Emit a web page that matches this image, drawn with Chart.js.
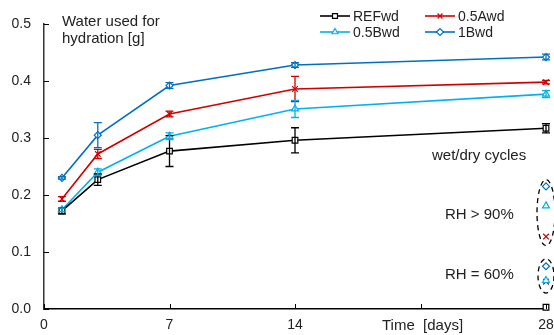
<!DOCTYPE html>
<html>
<head>
<meta charset="utf-8">
<script src="https://cdn.jsdelivr.net/npm/chart.js@4/dist/chart.umd.min.js"></script>
<style>
  html, body { margin: 0; padding: 0; background: #fff; }
  #wrap { width: 554px; height: 335px; position: relative; }
</style>
</head>
<body>
<div id="wrap"><canvas id="c"></canvas></div>
<script>
// Data
const days = [1, 3, 7, 14, 28]
const xTicks = [0, 7, 14, 21, 28]
const yTicks = [0, 0.1, 0.2, 0.3, 0.4, 0.5]

const refwd = [0.172, 0.227, 0.277, 0.296, 0.317]
const refwdErr = [0.005, 0.010, 0.027, 0.022, 0.008]
const a05wd = [0.193, 0.272, 0.342, 0.386, 0.398]
const a05wdErr = [0.004, 0.008, 0.005, 0.022, 0.003]
const b05wd = [0.174, 0.240, 0.303, 0.351, 0.377]
const b05wdErr = [0.003, 0.006, 0.006, 0.015, 0.006]
const b1wd = [0.230, 0.305, 0.392, 0.428, 0.442]
const b1wdErr = [0.002, 0.022, 0.005, 0.004, 0.005]

// separate markers at day 28 (RH > 90% and RH = 60%)
const rh90 = { b1: 0.215, b05: 0.181, a05: 0.127 }
const rh60 = { b1: 0.075, b05: 0.050, a05: 0.048, ref: 0.003 }

const FONT = "'Liberation Sans', Arial, sans-serif"
const TXT = "#222"

function pts(ys) {
  return days.map((d, i) => ({ x: d, y: ys[i] }))
}

function series(label, ys, errs, color, style, rad) {
  return {
    label: label,
    data: pts(ys),
    errs: errs,
    borderColor: color,
    backgroundColor: "#fff",
    pointStyle: style,
    pointRadius: rad,
    pointBorderWidth: 1.2,
    borderWidth: 1.6,
    tension: 0,
  }
}

function single(y, color, style, rad) {
  return {
    data: [{ x: 28, y: y }],
    showLine: false,
    borderColor: color,
    backgroundColor: "#fff",
    pointStyle: style,
    pointRadius: rad,
    pointBorderWidth: 1.2,
  }
}

const BLACK = "#000000", RED = "#d00000", LBLUE = "#00b0f0", BLUE = "#0070c0"

// error bars, inward ticks, ellipses, legend and labels
const decor = {
  id: "decor",
  afterDatasetsDraw(chart) {
    const { ctx, scales: { x, y }, chartArea } = chart
    ctx.save()

    // error bars
    chart.data.datasets.forEach((ds) => {
      if (!ds.errs) return
      ctx.strokeStyle = ds.borderColor
      ctx.lineWidth = 1.3
      ds.data.forEach((p, i) => {
        const e = ds.errs[i]
        const px = x.getPixelForValue(p.x)
        const top = y.getPixelForValue(p.y + e)
        const bot = y.getPixelForValue(p.y - e)
        ctx.beginPath()
        ctx.moveTo(px, top); ctx.lineTo(px, bot)
        ctx.moveTo(px - 4, top); ctx.lineTo(px + 4, top)
        ctx.moveTo(px - 4, bot); ctx.lineTo(px + 4, bot)
        ctx.stroke()
      })
    })

    // inward ticks
    ctx.strokeStyle = "#000"
    ctx.lineWidth = 1
    yTicks.forEach((v) => {
      const py = Math.round(y.getPixelForValue(v)) + 0.5
      ctx.beginPath(); ctx.moveTo(chartArea.left, py); ctx.lineTo(chartArea.left + 5, py); ctx.stroke()
    })
    xTicks.forEach((v) => {
      const px = Math.round(x.getPixelForValue(v)) + 0.5
      ctx.beginPath(); ctx.moveTo(px, chartArea.bottom); ctx.lineTo(px, chartArea.bottom - 5); ctx.stroke()
    })

    // dashed ellipses around day-28 groups
    const cx = x.getPixelForValue(28)
    ctx.setLineDash([5, 4])
    ctx.lineWidth = 1.3
    const e1t = y.getPixelForValue(rh90.b1 + 0.012), e1b = y.getPixelForValue(rh90.a05 - 0.016)
    ctx.beginPath(); ctx.ellipse(cx, (e1t + e1b) / 2, 9, (e1b - e1t) / 2, 0, 0, Math.PI * 2); ctx.stroke()
    const e2t = y.getPixelForValue(rh60.b1 + 0.013), e2b = y.getPixelForValue(rh60.a05 - 0.02)
    ctx.beginPath(); ctx.ellipse(cx, (e2t + e2b) / 2, 8, (e2b - e2t) / 2, 0, 0, Math.PI * 2); ctx.stroke()
    ctx.setLineDash([])

    // legend
    const items = [
      ["REFwd", BLACK, "rect", 320, 16],
      ["0.5Awd", RED, "crossRot", 425, 16],
      ["0.5Bwd", LBLUE, "triangle", 320, 32],
      ["1Bwd", BLUE, "rectRot", 425, 32],
    ]
    ctx.font = "14px " + FONT
    ctx.textBaseline = "middle"
    ctx.textAlign = "left"
    items.forEach(([lab, col, st, lx, ly]) => {
      ctx.strokeStyle = col
      ctx.lineWidth = 1.6
      ctx.beginPath(); ctx.moveTo(lx, ly); ctx.lineTo(lx + 30, ly); ctx.stroke()
      ctx.fillStyle = "#fff"
      ctx.lineWidth = 1.2
      Chart.helpers.drawPoint(ctx, { pointStyle: st, radius: 3.5, borderWidth: 1.2 }, lx + 15, ly)
      ctx.fillStyle = TXT
      ctx.fillText(lab, lx + 33, ly + 1)
    })

    // texts
    ctx.fillStyle = TXT
    ctx.font = "15px " + FONT
    ctx.textBaseline = "alphabetic"
    ctx.fillText("Water used for", 62, 26)
    ctx.fillText("hydration [g]", 62, 43)
    ctx.fillText("wet/dry cycles", 432, 160)
    ctx.fillText("RH > 90%", 445, 219)
    ctx.fillText("RH = 60%", 445, 279)
    ctx.fillText("Time  [days]", 382, 330)
    ctx.restore()
  },
}

new Chart(document.getElementById("c"), {
  type: "line",
  data: {
    datasets: [
      series("REFwd", refwd, refwdErr, BLACK, "rect", 4),
      series("0.5Awd", a05wd, a05wdErr, RED, "crossRot", 4),
      series("0.5Bwd", b05wd, b05wdErr, LBLUE, "triangle", 4),
      series("1Bwd", b1wd, b1wdErr, BLUE, "rectRot", 3.5),
      single(rh90.b1, BLUE, "rectRot", 3.5),
      single(rh90.b05, LBLUE, "triangle", 4),
      single(rh90.a05, RED, "crossRot", 4),
      single(rh60.b1, BLUE, "rectRot", 3.5),
      single(rh60.b05, LBLUE, "triangle", 4),
      single(rh60.a05, RED, "crossRot", 4),
      single(rh60.ref, BLACK, "rect", 4),
    ],
  },
  plugins: [decor],
  options: {
    responsive: true,
    maintainAspectRatio: false,
    animation: false,
    clip: false,
    layout: { padding: { left: 0, right: 0, top: 24, bottom: 0 } },
    plugins: { legend: { display: false }, tooltip: { enabled: false } },
    scales: {
      x: {
        type: "linear",
        min: 0,
        max: 28,
        afterBuildTicks: (s) => { s.ticks = xTicks.map((v) => ({ value: v })) },
        afterFit: (s) => { s.height = 26; s.paddingRight = 8; s.paddingLeft = 0 },
        grid: { display: false, drawTicks: false },
        border: { display: true, color: "#000", width: 1.5 },
        ticks: {
          padding: 8,
          color: TXT,
          font: { family: FONT, size: 14 },
          maxRotation: 0,
          callback: (v) => (v === 21 ? "" : String(v)),
        },
      },
      y: {
        min: 0,
        max: 0.5,
        afterBuildTicks: (s) => { s.ticks = yTicks.map((v) => ({ value: v })) },
        afterFit: (s) => { s.width = 44 },
        grid: { display: false, drawTicks: false },
        border: { display: true, color: "#333", width: 1.5 },
        ticks: {
          padding: 13,
          color: TXT,
          font: { family: FONT, size: 14 },
          callback: (v) => v.toFixed(1),
        },
      },
    },
  },
})
</script>
</body>
</html>
